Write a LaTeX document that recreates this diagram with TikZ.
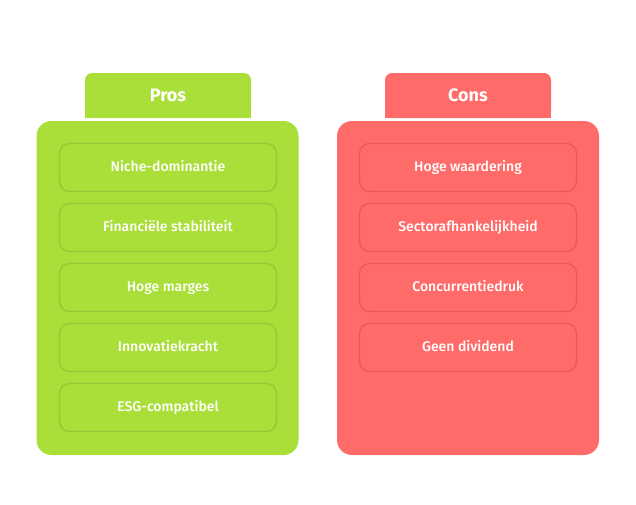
\documentclass[tikz,border=0pt]{standalone}
\usepackage{fontspec}
\setmainfont{Liberation Sans}
\newfontfamily\itemfont{Fira Sans Medium}
\newfontfamily\tabfont{Fira Sans Bold}
\usetikzlibrary{positioning}
\definecolor{prosgreen}{HTML}{AADE38}
\definecolor{prosline}{HTML}{98C634}
\definecolor{consred}{HTML}{FF6B68}
\definecolor{consline}{HTML}{E85A5A}

\begin{document}
\begin{tikzpicture}[
                x=1pt, y=-1pt,
                tab/.style={
                    rounded corners=7pt,
                    minimum width=166pt,
                    minimum height=45pt
                },
                title/.style={
                    text=white,
                    font=\tabfont\fontsize{18}{20}\selectfont
                },
                panel/.style={
                    rounded corners=15pt,
                    minimum width=262pt,
                    minimum height=334pt
                },
                item/.style={
                    draw,
                    line width=1.3pt,
                    outer sep=0pt,
                    rounded corners=10pt,
                    minimum width=217pt,
                    minimum height=48pt,
                    text height=10.5pt,
                    text depth=2.5pt,
                    text=white,
                    align=center,
                    font=\itemfont\fontsize{14}{16}\selectfont
                },
                node distance=12pt
            ]
                \useasboundingbox (0,0) rectangle (636,504);

                % pros column
                \node[tab, fill=prosgreen] (prostab) at (168,95.5) {};
                \fill[prosgreen] (prostab.west) rectangle (prostab.south east);
                \node[title] (prostitle) at (prostab) {Pros};
                \node[panel, fill=prosgreen] (prospanel) at (167.5,288) {};
                \node[item, draw=prosline, fill=prosgreen] (pros1) at (168,167.5) {Niche-dominantie};
                \node[item, draw=prosline, fill=prosgreen, below=of pros1] (pros2) {Financiële stabiliteit};
                \node[item, draw=prosline, fill=prosgreen, below=of pros2] (pros3) {Hoge marges};
                \node[item, draw=prosline, fill=prosgreen, below=of pros3] (pros4) {Innovatiekracht};
                \node[item, draw=prosline, fill=prosgreen, below=of pros4] (pros5) {ESG-compatibel};

                % cons column
                \node[tab, fill=consred] (constab) at (468,95.5) {};
                \fill[consred] (constab.west) rectangle (constab.south east);
                \node[title] (constitle) at (constab) {Cons};
                \node[panel, fill=consred] (conspanel) at (468,288) {};
                \node[item, draw=consline, fill=consred] (cons1) at (468,167.5) {Hoge waardering};
                \node[item, draw=consline, fill=consred, below=of cons1] (cons2) {Sectorafhankelijkheid};
                \node[item, draw=consline, fill=consred, below=of cons2] (cons3) {Concurrentiedruk};
                \node[item, draw=consline, fill=consred, below=of cons3] (cons4) {Geen dividend};
            \end{tikzpicture}
\end{document}
